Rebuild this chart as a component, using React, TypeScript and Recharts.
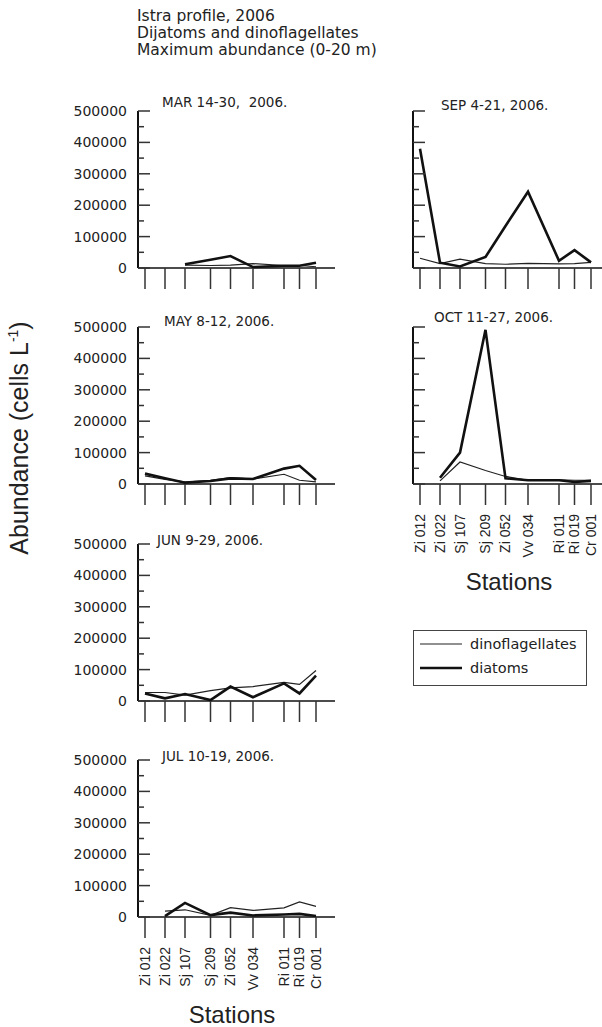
import React from "react";
import { LineChart, Line, XAxis, YAxis } from "recharts";

const stations = ["Zi 012", "Zi 022", "Sj 107", "Sj 209", "Zi 052", "Vv 034", "Ri 011", "Ri 019", "Cr 001"];
const stationPos = [0, 20, 40, 65.5, 85.5, 108, 139, 154.5, 171];
const yTicks = [0, 50000, 100000, 150000, 200000, 250000, 300000, 350000, 400000, 450000, 500000];

const marDino = [null, null, 9000, 8000, 9000, 14000, 8000, 8000, 4000];
const marDiat = [null, null, 12000, 26000, 38000, 3000, 7000, 7000, 17000];
const mayDino = [26000, 15000, 7000, 12000, 20000, 16000, 31000, 12000, 7000];
const mayDiat = [33000, 18000, 4000, 9500, 18000, 16000, 49000, 58000, 13000];
const junDino = [27000, 27000, 19000, 33000, 42000, 46000, 59000, 53000, 97000];
const junDiat = [24000, 8500, 22000, 3000, 46000, 12000, 56000, 24000, 81000];
const julDino = [null, 19000, 23000, 5000, 30000, 21000, 29000, 48000, 34000];
const julDiat = [null, 3000, 45000, 6000, 14000, 5000, 8000, 10000, 3000];
const sepDino = [31000, 14000, 28000, 14000, 12000, 15000, 13000, 14000, 18000];
const sepDiat = [380000, 17000, 5000, 35000, 134000, 243000, 23000, 57000, 18000];
const octDino = [null, 10000, 70000, 43000, 24000, 12000, 13000, 12000, 12000];
const octDiat = [null, 20000, 100000, 491000, 18000, 12000, 12000, 6500, 10000];

const SANS = "'DejaVu Sans', sans-serif";
const ARIAL = "'Liberation Sans', Arial, sans-serif";

function buildRows(dino: (number | null)[], diat: (number | null)[]) {
  return stations.map((s, i) => ({ name: s, pos: stationPos[i], dino: dino[i], diat: diat[i] }));
}

function AbundanceTick({ x, y, payload, showLabel }: any) {
  const major = payload.value % 100000 === 0;
  return (
    <g>
      <line x1={x} x2={x + (major ? 12 : 6)} y1={y} y2={y} stroke="#333" strokeWidth={1.5} />
      {showLabel && major && (
        <text x={x - 11} y={y} dy="0.36em" textAnchor="end" fontSize={14} fontFamily={SANS} fill="#222">
          {payload.value}
        </text>
      )}
    </g>
  );
}

function StationTick({ x, y, payload, showLabel }: any) {
  if (!showLabel) return <g />;
  const i = stationPos.indexOf(payload.value);
  return (
    <text
      x={x}
      y={y}
      dy="0.35em"
      transform={`rotate(-90, ${x}, ${y})`}
      textAnchor="end"
      fontSize={14}
      fontFamily={ARIAL}
      fill="#222"
    >
      {stations[i]}
    </text>
  );
}

type PanelProps = {
  left: number;
  top: number;
  width: number;
  axisW: number;
  xMax: number;
  yLabels: boolean;
  xLabels: boolean;
  dino: (number | null)[];
  diat: (number | null)[];
};

function Panel({ left, top, width, axisW, xMax, yLabels, xLabels, dino, diat }: PanelProps) {
  const xh = xLabels ? 80 : 25;
  const plotH = 157;
  return (
    <div style={{ position: "absolute", left, top }}>
      <LineChart
        width={width}
        height={10 + plotH + xh}
        data={buildRows(dino, diat)}
        margin={{ top: 10, right: left > 0 ? 0 : 5, left: 0, bottom: 0 }}
      >
        <XAxis
          type="number"
          dataKey="pos"
          domain={[-7, xMax]}
          ticks={stationPos}
          allowDataOverflow
          height={xh}
          tickSize={21}
          tickMargin={9}
          axisLine={{ stroke: "#111", strokeWidth: 1.5 }}
          tickLine={{ stroke: "#333", strokeWidth: 1.5 }}
          tick={<StationTick showLabel={xLabels} />}
          interval={0}
        />
        <YAxis
          type="number"
          domain={[0, 500000]}
          ticks={yTicks}
          width={axisW}
          tickSize={0}
          tickMargin={0}
          tickLine={false}
          axisLine={{ stroke: "#111", strokeWidth: 2 }}
          tick={<AbundanceTick showLabel={yLabels} />}
          interval={0}
        />
        <Line
          type="linear"
          dataKey="dino"
          stroke="#222"
          strokeWidth={1.2}
          dot={false}
          isAnimationActive={false}
        />
        <Line
          type="linear"
          dataKey="diat"
          stroke="#111"
          strokeWidth={2.6}
          dot={false}
          isAnimationActive={false}
        />
      </LineChart>
    </div>
  );
}

const titles = [
  { text: "MAR 14-30,  2006.", x: 162, y: 107 },
  { text: "MAY 8-12, 2006.", x: 164, y: 326 },
  { text: "JUN 9-29, 2006.", x: 157, y: 545 },
  { text: "JUL 10-19, 2006.", x: 162, y: 760.5 },
  { text: "SEP 4-21, 2006.", x: 441, y: 109.5 },
  { text: "OCT 11-27, 2006.", x: 434, y: 321.5 },
];

export default function App() {
  return (
    <div style={{ position: "absolute", left: 0, top: 0, width: 602, height: 1027, background: "#fff" }}>
      <Panel left={0} top={101} width={340} axisW={138} xMax={190} yLabels xLabels={false} dino={marDino} diat={marDiat} />
      <Panel left={0} top={317} width={340} axisW={138} xMax={190} yLabels xLabels={false} dino={mayDino} diat={mayDiat} />
      <Panel left={0} top={534} width={340} axisW={138} xMax={190} yLabels xLabels={false} dino={junDino} diat={junDiat} />
      <Panel left={0} top={750} width={340} axisW={138} xMax={190} yLabels xLabels dino={julDino} diat={julDiat} />
      <Panel left={380} top={101} width={222} axisW={33} xMax={182} yLabels={false} xLabels={false} dino={sepDino} diat={sepDiat} />
      <Panel left={380} top={317} width={222} axisW={33} xMax={182} yLabels={false} xLabels dino={octDino} diat={octDiat} />

      <svg width={602} height={1027} style={{ position: "absolute", left: 0, top: 0, pointerEvents: "none" }}>
        <g fontFamily={SANS} fontSize={15.5} fill="#222">
          <text x={137} y={20.5}>Istra profile, 2006</text>
          <text x={137} y={37.5}>Dijatoms and dinoflagellates</text>
          <text x={137} y={54.5}>Maximum abundance (0-20 m)</text>
        </g>
        <g fontFamily={SANS} fontSize={13.5} fill="#222">
          {titles.map((t) => (
            <text key={t.text} x={t.x} y={t.y} style={{ whiteSpace: "pre" }}>
              {t.text}
            </text>
          ))}
        </g>
        <text
          x={28}
          y={438}
          transform="rotate(-90, 28, 438)"
          textAnchor="middle"
          fontFamily={ARIAL}
          fontSize={25}
          fill="#222"
        >
          Abundance (cells L
          <tspan fontSize={14} dy={-10}>-1</tspan>
          <tspan dy={10}>)</tspan>
        </text>
        <text x={232} y={1023} textAnchor="middle" fontFamily={ARIAL} fontSize={24} fill="#222">
          Stations
        </text>
        <text x={509} y={590} textAnchor="middle" fontFamily={ARIAL} fontSize={24} fill="#222">
          Stations
        </text>
        <rect x={413.5} y={630.5} width={173} height={55} fill="none" stroke="#444" strokeWidth={1} />
        <line x1={420} x2={462} y1={644} y2={644} stroke="#222" strokeWidth={1.2} />
        <line x1={420} x2={462} y1={668} y2={668} stroke="#111" strokeWidth={2.6} />
        <text x={470} y={649} fontFamily={SANS} fontSize={14.5} fill="#222">dinoflagellates</text>
        <text x={470} y={673} fontFamily={SANS} fontSize={14.5} fill="#222">diatoms</text>
      </svg>
    </div>
  );
}
